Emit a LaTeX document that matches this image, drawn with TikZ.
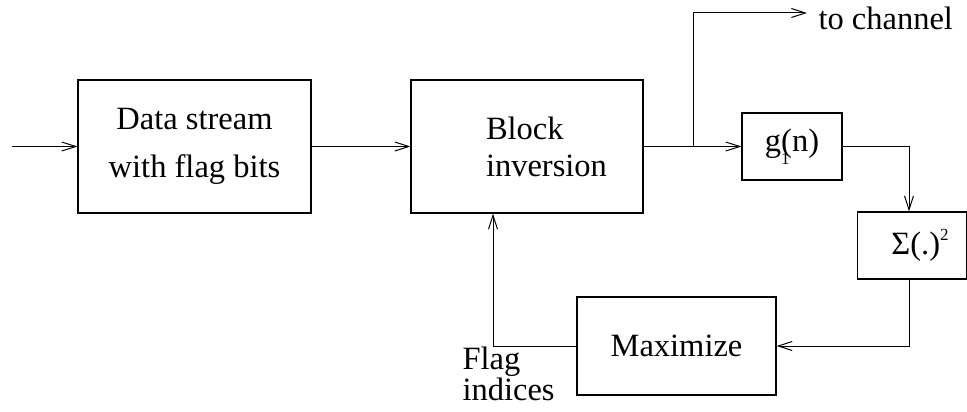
\documentclass[tikz,border=0pt]{standalone}
\usepackage{fontspec}
\setmainfont{Liberation Serif}
\usetikzlibrary{arrows.meta,positioning}

\begin{document}
\begin{tikzpicture}[x=1pt,y=-1pt,line width=1pt,
  font=\fontsize{32.5}{48}\selectfont,
  blockbox/.style={draw, line width=1.2pt, inner sep=0pt},
  flow/.style={-{Straight Barb[length=14pt,width=9pt]}}]
\useasboundingbox (0,0) rectangle (967,412);
% blocks
\node[blockbox, minimum width=233pt, minimum height=133pt, align=center] (data) at (194.5,146.5) {Data stream\\with flag bits};
\node[blockbox, minimum height=133pt, text width=82pt, inner xsep=75pt, align=left,
  font=\fontsize{32.5}{37}\selectfont] (blk) at (527,146.5) {Block\\\mbox{inversion}};
\node[blockbox, minimum width=100pt, minimum height=67pt] (gfil) at (792,146.5)
  {g\rlap{\raisebox{-13pt}{\fontsize{17}{17}\selectfont 1}}(n)};
\node[blockbox, minimum width=109pt, minimum height=67pt] (sig) at (912,245.5)
  {\hspace*{16pt}Σ(.)\raisebox{14pt}{\fontsize{17}{17}\selectfont 2}};
\node[blockbox, minimum width=199pt, minimum height=98pt] (maxi) at (676.5,346) {Maximize};
% labels
\node[anchor=base west, align=left, inner sep=0pt, font=\fontsize{32.5}{28}\selectfont] (flagtxt) at (462,400) {Flag\\indices};
\node[anchor=base west, inner sep=0pt] (chan) at (818,30) {to channel};
\coordinate (src) at (12,146.5);
\coordinate (split) at (693,146.5);
\coordinate (chanend) at (807,13);
% connections
\draw[flow] (src) -- (data.west);
\draw[flow] (data.east) -- (blk.west);
\draw[flow] (blk.east) -- (gfil.west);
\draw[flow] (split) |- (chanend);
\draw[flow] (gfil.east) -| ([xshift=-3pt]sig.north);
\draw[flow] ([xshift=-3pt]sig.south) |- (maxi.east);
\draw[flow] (maxi.west) -| ([xshift=-34pt]blk.south);
\end{tikzpicture}
\end{document}
